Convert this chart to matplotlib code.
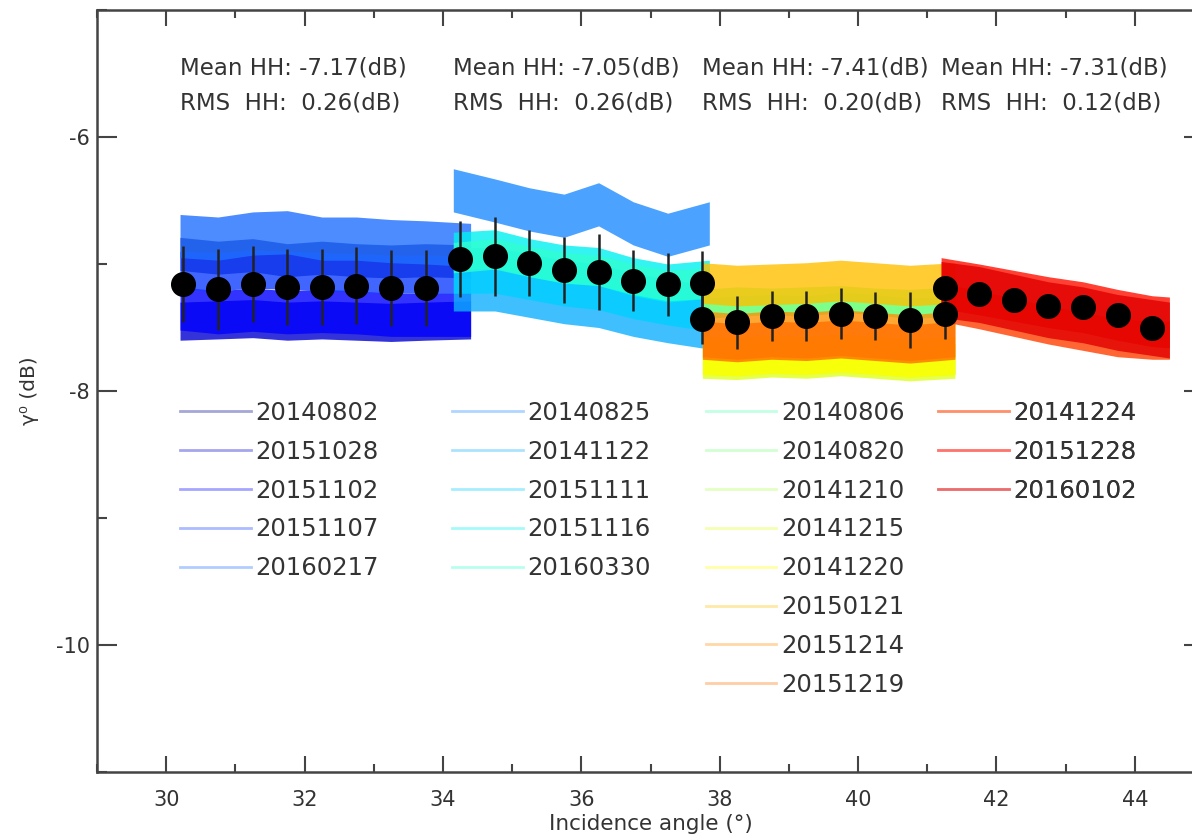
import matplotlib
matplotlib.use("Agg")
import matplotlib.pyplot as plt
from matplotlib.lines import Line2D
from matplotlib.ticker import MultipleLocator

# ── Fechas (leyenda, 4 columnas) ──────────────────────────────────────────────
dates_g1 = ["20140802", "20151028", "20151102", "20151107", "20160217"]
dates_g2 = ["20140825", "20141122", "20151111", "20151116", "20160330"]
dates_g3 = ["20140806", "20140820", "20141210", "20141215", "20141220",
            "20150121", "20151214", "20151219"]
dates_g4 = ["20141224", "20151228", "20160102"]

colors_g1 = ["#00008f", "#0000d0", "#0000ff", "#1040ff", "#2070ff"]
colors_g2 = ["#1e8cff", "#10b0ff", "#00d0ff", "#00f0f0", "#30ffd0"]
colors_g3 = ["#50ffb0", "#80ff80", "#b0ff50", "#e0ff20", "#ffff00",
             "#ffc000", "#ff9000", "#ff7000"]
colors_g4 = ["#ff4000", "#ff1000", "#e00000"]

# ── Bandas gamma0 por fecha (centro y semi-anchura, dB) ──────────────────────
angle_g1 = [30.2, 30.75, 31.25, 31.75, 32.25, 32.75, 33.25, 33.75, 34.4]
centre_g1 = [
    [-6.92, -6.95, -6.93, -6.97, -6.95, -6.97, -6.98, -6.97, -6.98],
    [-7.45, -7.44, -7.43, -7.45, -7.44, -7.45, -7.46, -7.45, -7.44],
    [-7.35, -7.38, -7.36, -7.38, -7.37, -7.38, -7.40, -7.40, -7.40],
    [-7.05, -7.06, -7.04, -7.05, -7.06, -7.07, -7.08, -7.08, -7.09],
    [-6.78, -6.80, -6.76, -6.75, -6.80, -6.80, -6.82, -6.83, -6.85],
]
spread_g1 = [0.13, 0.15, 0.17, 0.15, 0.17]

angle_g2 = [34.15, 34.75, 35.25, 35.75, 36.25, 36.75, 37.25, 37.85]
centre_g2 = [
    [-6.42, -6.50, -6.57, -6.62, -6.53, -6.68, -6.77, -6.68],
    [-7.17, -7.17, -7.22, -7.27, -7.30, -7.37, -7.42, -7.47],
    [-7.05, -7.05, -7.10, -7.15, -7.18, -7.25, -7.30, -7.35],
    [-6.90, -6.88, -6.95, -7.00, -7.02, -7.10, -7.15, -7.12],
    [-6.95, -6.92, -6.98, -7.03, -7.05, -7.12, -7.17, -7.15],
]
spread_g2 = [0.17, 0.20, 0.18, 0.15, 0.12]

angle_g3 = [37.75, 38.25, 38.75, 39.25, 39.75, 40.25, 40.75, 41.4]
centre_g3 = [
    [-7.35, -7.33, -7.32, -7.33, -7.30, -7.32, -7.35, -7.33],
    [-7.30, -7.28, -7.29, -7.28, -7.27, -7.29, -7.30, -7.28],
    [-7.75, -7.76, -7.74, -7.75, -7.73, -7.75, -7.77, -7.75],
    [-7.78, -7.79, -7.77, -7.78, -7.76, -7.78, -7.80, -7.78],
    [-7.72, -7.73, -7.71, -7.72, -7.70, -7.72, -7.74, -7.72],
    [-7.15, -7.17, -7.16, -7.15, -7.13, -7.15, -7.17, -7.15],
    [-7.55, -7.57, -7.55, -7.56, -7.54, -7.56, -7.58, -7.55],
    [-7.60, -7.62, -7.60, -7.61, -7.59, -7.61, -7.63, -7.60],
]
spread_g3 = [0.08, 0.10, 0.12, 0.12, 0.15, 0.16, 0.18, 0.15]

angle_g4 = [41.2, 41.75, 42.25, 42.75, 43.25, 43.75, 44.25, 44.5]
centre_g4 = [
    [-7.30, -7.36, -7.42, -7.48, -7.53, -7.58, -7.60, -7.60],
    [-7.15, -7.20, -7.25, -7.30, -7.34, -7.40, -7.45, -7.46],
    [-7.20, -7.24, -7.30, -7.36, -7.40, -7.46, -7.50, -7.52],
]
spread_g4 = [0.15, 0.20, 0.22]

# ── Medias por bin de 0.5 grados (puntos negros + barras) ────────────────────
mean_angle_g1 = [30.25, 30.75, 31.25, 31.75, 32.25, 32.75, 33.25, 33.75]
mean_g1 = [-7.16, -7.20, -7.16, -7.18, -7.18, -7.17, -7.19, -7.19]
err_g1 = [0.30, 0.32, 0.30, 0.30, 0.30, 0.30, 0.30, 0.30]

mean_angle_g2 = [34.25, 34.75, 35.25, 35.75, 36.25, 36.75, 37.25, 37.75]
mean_g2 = [-6.96, -6.94, -6.99, -7.05, -7.06, -7.13, -7.16, -7.15]
err_g2 = [0.30, 0.31, 0.26, 0.26, 0.30, 0.24, 0.25, 0.25]

mean_angle_g3 = [37.75, 38.25, 38.75, 39.25, 39.75, 40.25, 40.75, 41.25]
mean_g3 = [-7.43, -7.46, -7.41, -7.41, -7.39, -7.41, -7.44, -7.39]
err_g3 = [0.20, 0.21, 0.20, 0.20, 0.20, 0.19, 0.22, 0.20]

mean_angle_g4 = [41.25, 41.75, 42.25, 42.75, 43.25, 43.75, 44.25]
mean_g4 = [-7.19, -7.24, -7.28, -7.33, -7.34, -7.40, -7.50]
err_g4 = [0.08, 0.08, 0.08, 0.08, 0.08, 0.08, 0.08]

stats_mean = ["-7.17", "-7.05", "-7.41", "-7.31"]
stats_rms = ["0.26", "0.26", "0.20", "0.12"]

# ── Estilo ────────────────────────────────────────────────────────────────────
TEXT_COLOR = "#333333"
AXIS_COLOR = "#444444"
plt.rcParams["font.family"] = ["DejaVu Sans"]

fig = plt.figure(figsize=(11.92, 8.36), dpi=100)
ax = fig.add_axes([97 / 1192, 64 / 836, 1107 / 1192, 762 / 836])

groups = [
    (angle_g1, centre_g1, spread_g1, colors_g1),
    (angle_g2, centre_g2, spread_g2, colors_g2),
    (angle_g3, centre_g3, spread_g3, colors_g3),
    (angle_g4, centre_g4, spread_g4, colors_g4),
]
for angles, centres, spreads, cols in groups:
    for c, s, col in zip(centres, spreads, cols):
        lo = [v - s for v in c]
        hi = [v + s for v in c]
        ax.fill_between(angles, lo, hi, color=col, alpha=0.8, lw=0)

means = [
    (mean_angle_g1, mean_g1, err_g1),
    (mean_angle_g2, mean_g2, err_g2),
    (mean_angle_g3, mean_g3, err_g3),
    (mean_angle_g4, mean_g4, err_g4),
]
for xa, ya, ea in means:
    ax.errorbar(xa, ya, yerr=ea, fmt="o", color="black", ms=17,
                ecolor="#222222", elinewidth=1.8, capsize=0, zorder=5)

# Textos de estadísticas al inicio de cada rango
starts = [angle_g1[0], angle_g2[0], angle_g3[0], angle_g4[0]]
for x0, m, r in zip(starts, stats_mean, stats_rms):
    ax.text(x0, -5.46, f"Mean HH: {m}(dB)", fontsize=16.5,
            color=TEXT_COLOR, ha="left", va="center")
    ax.text(x0, -5.73, f"RMS  HH:  {r}(dB)", fontsize=16.5,
            color=TEXT_COLOR, ha="left", va="center")

# Leyenda: una por columna
legend_x = [0.075, 0.321, 0.550, 0.760]
for lx, names, cols in zip(legend_x, [dates_g1, dates_g2, dates_g3, dates_g4],
                           [colors_g1, colors_g2, colors_g3, colors_g4]):
    handles = [Line2D([], [], color=c, lw=2.0, alpha=0.35) for c in cols]
    leg = ax.legend(handles, names, loc="upper left", bbox_to_anchor=(lx, 0.487),
                    frameon=False, fontsize=17.5, handlelength=2.9,
                    handletextpad=0.2, labelspacing=0.61, borderpad=0,
                    borderaxespad=0, labelcolor=TEXT_COLOR)
    ax.add_artist(leg)

ax.set_xlim(29, 45)
ax.set_ylim(-11, -5)
ax.xaxis.set_major_locator(MultipleLocator(2))
ax.xaxis.set_minor_locator(MultipleLocator(1))
ax.yaxis.set_minor_locator(MultipleLocator(1))
ax.set_yticks([-10, -8, -6])
ax.set_yticklabels(["-10", "-8", "-6"])

ax.tick_params(which="both", direction="in", top=True, right=True,
               color=AXIS_COLOR, labelcolor=TEXT_COLOR, width=1.5,
               labelsize=15)
ax.tick_params(axis="x", which="major", length=11.5, pad=13)
ax.tick_params(axis="x", which="minor", length=5.8)
ax.tick_params(axis="y", which="major", length=14.4, pad=5)
ax.tick_params(axis="y", which="minor", length=7.2)
for sp in ax.spines.values():
    sp.set_color(AXIS_COLOR)
    sp.set_linewidth(1.8)

ax.set_xlabel("Incidence angle (°)", fontsize=15.5, color=TEXT_COLOR, labelpad=3)
ax.set_ylabel("γ⁰ (dB)", fontsize=14.5, color=TEXT_COLOR, labelpad=12)

fig.savefig("out.png", dpi=100)
